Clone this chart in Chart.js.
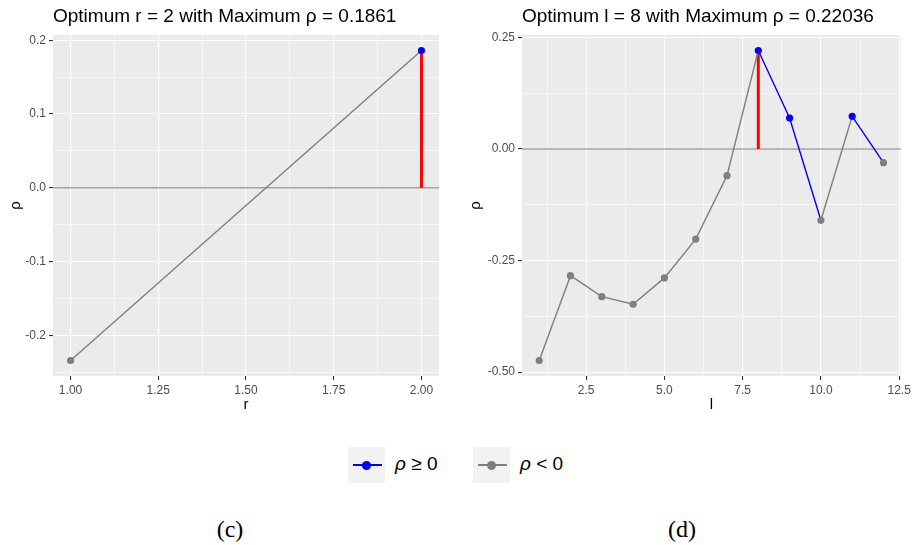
<!DOCTYPE html>
<html><head><meta charset="utf-8">
<script src="https://cdn.jsdelivr.net/npm/chart.js@4.4.1/dist/chart.umd.min.js"></script>
<style>
body{margin:0;background:#fff;width:914px;height:545px;overflow:hidden;position:relative;font-family:'Liberation Sans',Arial,sans-serif;}
#c1{position:absolute;left:0;top:0;}
#c2{position:absolute;left:455px;top:0;}
.key{position:absolute;top:447px;width:37px;height:36px;background:#F2F2F2;}
.key .ln{position:absolute;left:5px;width:29px;top:17px;height:2px;}
.key .dt{position:absolute;left:14px;top:13.5px;width:9px;height:9px;border-radius:50%;}
.lt{position:absolute;top:452px;font-size:19px;line-height:24px;color:#000;white-space:nowrap;}
.cap{position:absolute;top:516px;width:100px;text-align:center;font-family:'Liberation Serif','Times New Roman',serif;font-size:24px;line-height:26px;}
</style></head>
<body>
<canvas id="c1" width="455" height="420"></canvas>
<canvas id="c2" width="459" height="420"></canvas>

<div class="key" style="left:348px"><div class="ln" style="background:#0000FF"></div><div class="dt" style="background:#0000FF"></div></div>
<div class="lt" style="left:395px"><i>ρ</i> ≥ 0</div>
<div class="key" style="left:473px"><div class="ln" style="background:#7F7F7F"></div><div class="dt" style="background:#7F7F7F"></div></div>
<div class="lt" style="left:520px"><i>ρ</i> &lt; 0</div>

<div class="cap" style="left:180px">(c)</div>
<div class="cap" style="left:632px">(d)</div>

<script>
// ---- data (c): r vs rho ----
const rValues = [1, 2];
const rhoR = [-0.234, 0.1861];
const rXTicks = [1.00, 1.25, 1.50, 1.75, 2.00];
const rXTickLabels = ['1.00', '1.25', '1.50', '1.75', '2.00'];
const rYTicks = [-0.2, -0.1, 0.0, 0.1, 0.2];
const rYTickLabels = ['-0.2', '-0.1', '0.0', '0.1', '0.2'];
const rTitle = 'Optimum r = 2 with Maximum ρ = 0.1861';

// ---- data (d): l vs rho ----
const lValues = [1, 2, 3, 4, 5, 6, 7, 8, 9, 10, 11, 12];
const rhoL = [-0.474, -0.284, -0.331, -0.348, -0.289, -0.202, -0.060, 0.22036, 0.069, -0.160, 0.073, -0.031];
const lXTicks = [2.5, 5.0, 7.5, 10.0, 12.5];
const lXTickLabels = ['2.5', '5.0', '7.5', '10.0', '12.5'];
const lYTicks = [-0.50, -0.25, 0.00, 0.25];
const lYTickLabels = ['-0.50', '-0.25', '0.00', '0.25'];
const lTitle = 'Optimum l = 8 with Maximum ρ = 0.22036';

const COL_POS = '#0000FF';
const COL_NEG = '#7F7F7F';
const FAMILY = "'Liberation Sans', Arial, sans-serif";

function expandRange(vals) {
  const mn = Math.min(...vals), mx = Math.max(...vals), d = mx - mn;
  return [mn - 0.05 * d, mx + 0.05 * d];
}
function r6(v) { return Math.round(v * 1e6) / 1e6; }
function allBreaks(major, lo, hi) {
  const step = major[1] - major[0];
  const ext = [major[0] - step, ...major, major[major.length - 1] + step];
  const out = [];
  for (let i = 0; i < ext.length; i++) {
    if (ext[i] >= lo && ext[i] <= hi) out.push(r6(ext[i]));
    if (i < ext.length - 1) {
      const m = (ext[i] + ext[i + 1]) / 2;
      if (m >= lo && m <= hi) out.push(r6(m));
    }
  }
  return out.sort((a, b) => a - b);
}
function isMajor(v, major) { return major.some(m => Math.abs(m - v) < 1e-6); }
function labelFor(v, major, labels) {
  const i = major.findIndex(m => Math.abs(m - v) < 1e-6);
  return i >= 0 ? labels[i] : '';
}

const panelPlugin = {
  id: 'panelBg',
  beforeDraw(chart) {
    const {ctx, chartArea: a} = chart;
    ctx.save();
    ctx.fillStyle = '#EBEBEB';
    ctx.fillRect(a.left, a.top, a.right - a.left, a.bottom - a.top);
    ctx.restore();
  },
  beforeDatasetsDraw(chart) {
    const {ctx, chartArea: a, scales} = chart;
    const y0 = scales.y.getPixelForValue(0);
    ctx.save();
    ctx.strokeStyle = '#A3A3A3';
    ctx.lineWidth = 1.5;
    ctx.beginPath();
    ctx.moveTo(a.left, y0);
    ctx.lineTo(a.right, y0);
    ctx.stroke();
    ctx.restore();
  }
};

function axis(major, labels, range, fitFn, titleText, titlePad) {
  const ticksAll = allBreaks(major, range[0], range[1]);
  return {
    type: 'linear',
    min: range[0], max: range[1],
    afterBuildTicks: s => { s.ticks = ticksAll.map(v => ({value: v})); },
    afterFit: fitFn,
    border: {display: false},
    grid: {
      color: '#FFFFFF',
      lineWidth: c => (c.tick && isMajor(c.tick.value, major)) ? 1.1 : 0.55,
      drawTicks: true,
      tickLength: 4,
      tickWidth: 1.1,
      tickColor: c => (c.tick && isMajor(c.tick.value, major)) ? '#333333' : 'rgba(0,0,0,0)'
    },
    ticks: {
      autoSkip: false, maxRotation: 0, minRotation: 0, padding: 3,
      color: '#4D4D4D', font: {size: 12, family: FAMILY},
      callback: v => labelFor(v, major, labels)
    },
    title: {display: true, text: titleText, color: '#000000', font: {size: 15, family: FAMILY}, padding: titlePad}
  };
}

function makePanel(id, xs, ys, xMaj, xLab, yMaj, yLab, titleText, xTitle, yWidth, yTitlePad, rightPad) {
  const xr = expandRange(xs);
  const yr = expandRange(ys);
  let best = 0;
  ys.forEach((v, i) => { if (v > ys[best]) best = i; });
  return new Chart(document.getElementById(id), {
    type: 'line',
    data: {
      datasets: [
        {
          data: xs.map((x, i) => ({x, y: ys[i]})),
          borderWidth: 1.4,
          borderColor: COL_NEG,
          segment: {borderColor: c => c.p0.parsed.y >= 0 ? COL_POS : COL_NEG},
          pointRadius: 3.6,
          pointBorderWidth: 0,
          pointBackgroundColor: ys.map(v => v >= 0 ? COL_POS : COL_NEG),
          tension: 0
        },
        {
          data: [{x: xs[best], y: 0}, {x: xs[best], y: ys[best]}],
          borderColor: '#FF0000',
          borderWidth: 3,
          pointRadius: 0,
          borderCapStyle: 'butt'
        }
      ]
    },
    options: {
      responsive: false,
      animation: false,
      devicePixelRatio: 1,
      layout: {padding: {top: 0, left: 0, bottom: 0, right: rightPad}},
      plugins: {
        legend: {display: false},
        tooltip: {enabled: false},
        title: {
          display: true, text: titleText, align: 'start', fullSize: false,
          color: '#000000', font: {size: 19, family: FAMILY, weight: 'normal'},
          padding: {top: 5, bottom: 7.2}
        }
      },
      scales: {
        x: axis(xMaj, xLab, xr, s => { s.height = 44; }, xTitle, {top: 0, bottom: 6}),
        y: axis(yMaj, yLab, yr, s => { s.width = yWidth; }, 'ρ', {top: yTitlePad, bottom: 0})
      }
    },
    plugins: [panelPlugin]
  });
}

makePanel('c1', rValues, rhoR, rXTicks, rXTickLabels, rYTicks, rYTickLabels, rTitle, 'r', 53, 6.5, 16);
makePanel('c2', lValues, rhoL, lXTicks, lXTickLabels, lYTicks, lYTickLabels, lTitle, 'l', 67, 11.7, 13.3);
</script>
</body></html>
